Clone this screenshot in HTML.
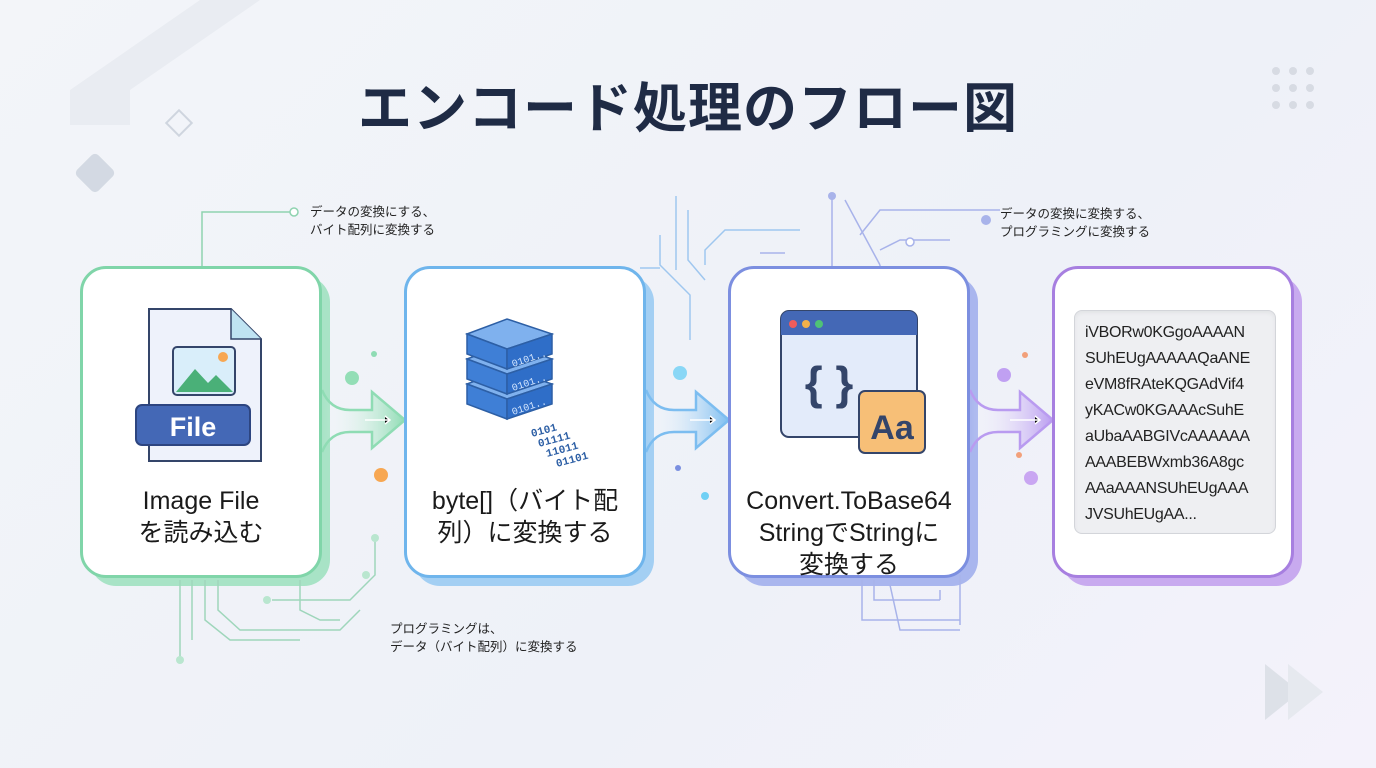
<!DOCTYPE html>
<html><head><meta charset="utf-8"><style>
body{margin:0;width:1376px;height:768px;overflow:hidden;background:linear-gradient(135deg,#f3f5f9,#eef1f8 60%,#f4f2fb);font-family:"Liberation Sans","Noto Sans CJK JP",sans-serif;position:relative}
.t{position:absolute;left:0;width:1376px;top:64px;text-align:center;font-size:54px;font-weight:bold;color:#1f2b45;letter-spacing:1px}
.card{position:absolute;top:266px;width:236px;height:306px;background:#fff;border-radius:26px;border:3px solid}
.lbl{position:absolute;left:0;width:100%;text-align:center;font-size:25px;color:#1a1a1a;line-height:32px}
.ann{position:absolute;font-size:12.5px;color:#222;line-height:18px}
</style></head><body>
<svg width="1376" height="768" style="position:absolute;left:0;top:0">
<polygon points="70,90 200,0 260,0 130,90 130,125 70,125" fill="#e9ecf2"/>
<rect x="170" y="114" width="18" height="18" transform="rotate(45 179 123)" fill="none" stroke="#cfd5df" stroke-width="2"/>
<rect x="80" y="158" width="30" height="30" rx="5" transform="rotate(45 95 173)" fill="#d3d9e3"/>
<g fill="#d7dbe3"><circle cx="1276" cy="71" r="4"/><circle cx="1293" cy="71" r="4"/><circle cx="1310" cy="71" r="4"/><circle cx="1276" cy="88" r="4"/><circle cx="1293" cy="88" r="4"/><circle cx="1310" cy="88" r="4"/><circle cx="1276" cy="105" r="4"/><circle cx="1293" cy="105" r="4"/><circle cx="1310" cy="105" r="4"/></g>
<polygon points="1265,664 1300,692 1265,720" fill="#dde1e8"/><polygon points="1288,664 1323,692 1288,720" fill="#e6e9ef"/>
<rect x="90" y="276" width="240" height="310" rx="26" fill="#a8e3c6"/>
<rect x="414" y="276" width="240" height="310" rx="26" fill="#a3cff3"/>
<rect x="738" y="276" width="240" height="310" rx="26" fill="#a9b6ee"/>
<rect x="1062" y="276" width="240" height="310" rx="26" fill="#c8aaef"/>
<g fill="none" stroke-width="1.5">
<path d="M202,266 V212 H292" stroke="#8fd3b0"/><circle cx="294" cy="212" r="4" stroke="#8fd3b0" fill="#fff"/>
<g stroke="#9fd6bb"><path d="M180,580 V660"/><path d="M192,580 V640"/><path d="M205,580 V620 L230,640 H300"/><path d="M218,580 V610 L240,630 H340 L360,610"/><path d="M300,580 V610 L320,620 H340"/><path d="M272,600 H350 L375,575 V540"/></g>
<g fill="#b9e6cf" stroke="none"><circle cx="180" cy="660" r="4"/><circle cx="375" cy="538" r="4"/><circle cx="366" cy="575" r="4"/><circle cx="267" cy="600" r="4"/></g>
<g stroke="#9fc7ef"><path d="M676,196 V270"/><path d="M688,210 V260 L705,280"/><path d="M660,235 V265 L690,295 V340"/><path d="M705,265 V250 L725,230 H800"/><path d="M640,268 H660"/></g>
<g stroke="#a8b3ea"><path d="M832,195 V266"/><path d="M845,200 L880,265 M880,265 V266"/><path d="M860,235 L880,210 H1000"/><path d="M880,250 L900,240 H950"/><path d="M760,253 H785"/></g>
<circle cx="832" cy="196" r="4" fill="#a8b3ea"/><circle cx="986" cy="220" r="5" fill="#a8b3ea"/><circle cx="910" cy="242" r="4" stroke="#a8b3ea" fill="#fff"/>
<g stroke="#a8b3ea"><path d="M862,580 V620 H960"/><path d="M874,580 V600 H940"/><path d="M940,590 V600"/><path d="M960,575 V625"/><path d="M890,585 L900,630 H960"/></g>
<circle cx="955" cy="495" r="4" fill="#b3bbef"/><circle cx="964" cy="525" r="4" fill="#c1b6ef"/>
</g>
<defs>
<linearGradient id="g1"><stop offset="0" stop-color="#fff" stop-opacity="0"/><stop offset="1" stop-color="#8fdcb4"/></linearGradient>
<linearGradient id="g2"><stop offset="0" stop-color="#fff" stop-opacity="0"/><stop offset="1" stop-color="#7cbdf0"/></linearGradient>
<linearGradient id="g3"><stop offset="0" stop-color="#fff" stop-opacity="0"/><stop offset="1" stop-color="#b99bf0"/></linearGradient>
</defs>
<g stroke-width="2.5">
<path d="M322,390 Q330,410 350,410 H372 V392 L405,420 L372,448 V432 H350 Q330,432 322,452" fill="url(#g1)" stroke="#8fdcb4"/>
<path d="M646,390 Q654,410 674,410 H696 V392 L729,420 L696,448 V432 H674 Q654,432 646,452" fill="url(#g2)" stroke="#7cbdf0"/>
<path d="M970,390 Q978,410 998,410 H1020 V392 L1053,420 L1020,448 V432 H998 Q978,432 970,452" fill="url(#g3)" stroke="#b99bf0"/>
</g>
<g stroke="#fff" stroke-width="1.5"><path d="M365,420 H390 M385,416 L390,420 L385,424"/><path d="M690,420 H715 M710,416 L715,420 L710,424"/><path d="M1010,420 H1040 M1035,416 L1040,420 L1035,424"/></g>
<circle cx="352" cy="378" r="7" fill="#7cd8a5" opacity=".8"/><circle cx="381" cy="475" r="7" fill="#f7a752"/><circle cx="374" cy="354" r="3" fill="#8fdcb4"/>
<circle cx="680" cy="373" r="7" fill="#6fd0f5" opacity=".8"/><circle cx="678" cy="468" r="3" fill="#7a8fe0"/><circle cx="705" cy="496" r="4" fill="#6fd0f5"/>
<circle cx="1004" cy="375" r="7" fill="#b48cf0" opacity=".8"/><circle cx="1031" cy="478" r="7" fill="#c9a6f2"/><circle cx="1025" cy="355" r="3" fill="#f2a07a"/><circle cx="1019" cy="455" r="3" fill="#f2a07a"/>
</svg>
<div class="t">エンコード処理のフロー図</div>
<div class="ann" style="left:310px;top:203px">データの変換にする、<br>バイト配列に変換する</div>
<div class="ann" style="left:1000px;top:205px">データの変換に変換する、<br>プログラミングに変換する</div>
<div class="ann" style="left:390px;top:620px">プログラミングは、<br>データ（バイト配列）に変換する</div>

<div class="card" style="left:80px;border-color:#80d5a9">
<svg width="236" height="200" style="position:absolute;left:0;top:0">
<path d="M66,40 H148 L178,70 V192 H66 Z" fill="#eef2fb" stroke="#34456a" stroke-width="2"/>
<path d="M148,40 V70 H178" fill="#bfe3f2" stroke="#34456a" stroke-width="1.5"/>
<rect x="90" y="78" width="62" height="48" rx="4" fill="#d9eefa" stroke="#34456a" stroke-width="2"/>
<path d="M93,123 L112,100 L125,114 L133,106 L150,123 Z" fill="#4ab078"/>
<circle cx="140" cy="88" r="5" fill="#f7a752"/>
<rect x="53" y="136" width="114" height="40" rx="6" fill="#4468b6" stroke="#2d4580" stroke-width="2"/>
<text x="110" y="167" text-anchor="middle" font-size="27" font-weight="bold" fill="#fff" font-family="Liberation Sans">File</text>
</svg>
<div class="lbl" style="top:216px">Image File<br>を読み込む</div></div>

<div class="card" style="left:404px;border-color:#6fb5ec">
<svg width="236" height="200" style="position:absolute;left:0;top:0">
<g stroke="#2d5fa5" stroke-width="1.5">
<path d="M60,115 L100,100 L145,115 L100,130Z" fill="#7fb1ee"/><path d="M60,115 V135 L100,150 V130Z" fill="#3f7fd6"/><path d="M100,130 V150 L145,135 V115Z" fill="#2f6ec8"/>
<path d="M60,90 L100,75 L145,90 L100,105Z" fill="#7fb1ee"/><path d="M60,90 V110 L100,125 V105Z" fill="#3f7fd6"/><path d="M100,105 V125 L145,110 V90Z" fill="#2f6ec8"/>
<path d="M60,65 L100,50 L145,65 L100,80Z" fill="#7fb1ee"/><path d="M60,65 V85 L100,100 V80Z" fill="#3f7fd6"/><path d="M100,80 V100 L145,85 V65Z" fill="#2f6ec8"/>
</g>
<g font-family="Liberation Mono" font-size="10" fill="#d8e9ff"><text x="106" y="98" transform="rotate(-18 106 98)">0101..</text><text x="106" y="122" transform="rotate(-18 106 122)">0101..</text><text x="106" y="146" transform="rotate(-18 106 146)">0101..</text></g>
<g font-family="Liberation Mono" font-size="11" font-weight="bold" fill="#2d5fa5"><text x="125" y="168" transform="rotate(-15 125 168)">0101</text><text x="132" y="178" transform="rotate(-15 132 178)">01111</text><text x="140" y="188" transform="rotate(-15 140 188)">11011</text><text x="150" y="198" transform="rotate(-15 150 198)">01101</text></g>
</svg>
<div class="lbl" style="top:216px">byte[]（バイト配<br>列）に変換する</div></div>

<div class="card" style="left:728px;border-color:#7c8fe0">
<svg width="236" height="200" style="position:absolute;left:0;top:0">
<rect x="50" y="42" width="136" height="126" rx="8" fill="#e3ebfa" stroke="#34456a" stroke-width="2"/>
<path d="M50,50 a8,8 0 0 1 8,-8 H178 a8,8 0 0 1 8,8 V66 H50Z" fill="#4468b6"/>
<circle cx="62" cy="55" r="4" fill="#ef5c5c"/><circle cx="75" cy="55" r="4" fill="#f3b04a"/><circle cx="88" cy="55" r="4" fill="#4fc276"/>
<text x="98" y="130" text-anchor="middle" font-size="46" font-weight="bold" fill="#34456a" font-family="Liberation Sans">{ }</text>
<rect x="128" y="122" width="66" height="62" rx="6" fill="#f7bf77" stroke="#34456a" stroke-width="2"/>
<text x="161" y="170" text-anchor="middle" font-size="34" font-weight="bold" fill="#34456a" font-family="Liberation Sans">Aa</text>
</svg>
<div class="lbl" style="top:216px">Convert.ToBase64<br>StringでStringに<br>変換する</div></div>

<div class="card" style="left:1052px;border-color:#a77fe0">
<div style="position:absolute;left:19px;top:41px;width:200px;height:222px;background:#eeeff2;border:1.5px solid #d3d5da;border-radius:8px;box-shadow:inset 0 2px 4px rgba(0,0,0,.05)">
<div style="padding:9px 0 0 10px;font-size:16px;line-height:26px;letter-spacing:-0.3px;color:#222">iVBORw0KGgoAAAAN<br>SUhEUgAAAAAQaANE<br>eVM8fRAteKQGAdVif4<br>yKACw0KGAAAcSuhE<br>aUbaAABGIVcAAAAAA<br>AAABEBWxmb36A8gc<br>AAaAAANSUhEUgAAA<br>JVSUhEUgAA...</div></div></div>
</body></html>
